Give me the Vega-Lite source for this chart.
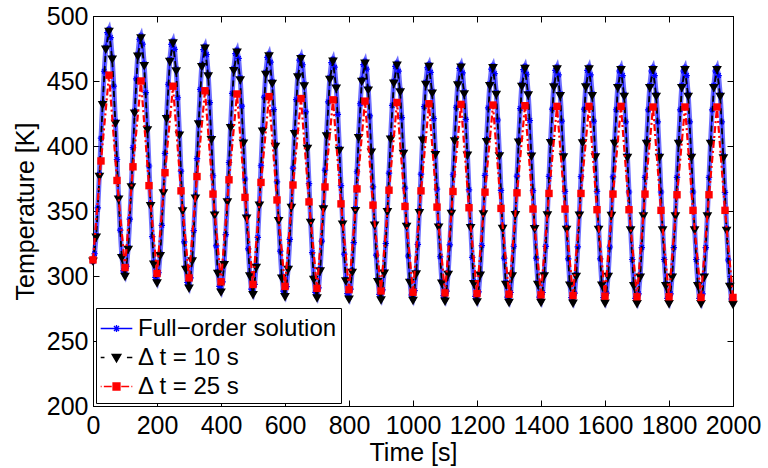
{
"$schema": "https://vega.github.io/schema/vega-lite/v6.json",
"autosize": "none",
"width": 640,
"height": 390,
"padding": {"left": 93, "top": 16, "right": 35, "bottom": 62},
"background": "white",
"datasets": {
"full": [
{"t":0,"v":311.0},{"t":5,"v":317.1},{"t":10,"v":331.4},{"t":15,"v":352.4},{"t":20,"v":378.1},{"t":25,"v":406.0},{"t":30,"v":433.4},{"t":35,"v":457.5},{"t":40,"v":476.1},{"t":45,"v":487.2},{"t":50,"v":489.8},{"t":55,"v":483.4},{"t":60,"v":468.3},{"t":65,"v":446.1},{"t":70,"v":419.0},{"t":75,"v":389.6},{"t":80,"v":360.7},{"t":85,"v":335.3},{"t":90,"v":315.7},{"t":95,"v":304.0},
{"t":100,"v":301.2},{"t":105,"v":307.5},{"t":110,"v":322.1},{"t":115,"v":343.7},{"t":120,"v":370.1},{"t":125,"v":398.8},{"t":130,"v":426.9},{"t":135,"v":451.6},{"t":140,"v":470.7},{"t":145,"v":482.1},{"t":150,"v":484.8},{"t":155,"v":478.4},{"t":160,"v":463.3},{"t":165,"v":441.1},{"t":170,"v":414.0},{"t":175,"v":384.6},{"t":180,"v":355.7},{"t":185,"v":330.3},{"t":190,"v":310.7},{"t":195,"v":299.0},
{"t":200,"v":296.2},{"t":205,"v":302.5},{"t":210,"v":317.2},{"t":215,"v":338.9},{"t":220,"v":365.5},{"t":225,"v":394.3},{"t":230,"v":422.6},{"t":235,"v":447.5},{"t":240,"v":466.6},{"t":245,"v":478.1},{"t":250,"v":480.8},{"t":255,"v":474.4},{"t":260,"v":459.3},{"t":265,"v":437.1},{"t":270,"v":410.0},{"t":275,"v":380.6},{"t":280,"v":351.7},{"t":285,"v":326.3},{"t":290,"v":306.7},{"t":295,"v":295.0},
{"t":300,"v":292.2},{"t":305,"v":298.5},{"t":310,"v":313.2},{"t":315,"v":334.9},{"t":320,"v":361.5},{"t":325,"v":390.3},{"t":330,"v":418.6},{"t":335,"v":443.5},{"t":340,"v":462.6},{"t":345,"v":474.1},{"t":350,"v":476.8},{"t":355,"v":470.4},{"t":360,"v":455.4},{"t":365,"v":433.4},{"t":370,"v":406.4},{"t":375,"v":377.1},{"t":380,"v":348.4},{"t":385,"v":323.1},{"t":390,"v":303.6},{"t":395,"v":292.0},
{"t":400,"v":289.2},{"t":405,"v":295.5},{"t":410,"v":310.2},{"t":415,"v":331.9},{"t":420,"v":358.5},{"t":425,"v":387.3},{"t":430,"v":415.6},{"t":435,"v":440.5},{"t":440,"v":459.6},{"t":445,"v":471.1},{"t":450,"v":473.8},{"t":455,"v":467.4},{"t":460,"v":452.5},{"t":465,"v":430.6},{"t":470,"v":403.8},{"t":475,"v":374.6},{"t":480,"v":346.1},{"t":485,"v":320.9},{"t":490,"v":301.6},{"t":495,"v":289.9},
{"t":500,"v":287.2},{"t":505,"v":293.5},{"t":510,"v":308.1},{"t":515,"v":329.7},{"t":520,"v":356.1},{"t":525,"v":384.8},{"t":530,"v":412.9},{"t":535,"v":437.6},{"t":540,"v":456.7},{"t":545,"v":468.1},{"t":550,"v":470.8},{"t":555,"v":464.5},{"t":560,"v":449.7},{"t":565,"v":428.0},{"t":570,"v":401.3},{"t":575,"v":372.4},{"t":580,"v":344.1},{"t":585,"v":319.1},{"t":590,"v":299.9},{"t":595,"v":288.4},
{"t":600,"v":285.7},{"t":605,"v":291.9},{"t":610,"v":306.6},{"t":615,"v":328.1},{"t":620,"v":354.4},{"t":625,"v":383.0},{"t":630,"v":411.0},{"t":635,"v":435.7},{"t":640,"v":454.7},{"t":645,"v":466.1},{"t":650,"v":468.8},{"t":655,"v":462.5},{"t":660,"v":447.8},{"t":665,"v":426.2},{"t":670,"v":399.7},{"t":675,"v":371.0},{"t":680,"v":342.8},{"t":685,"v":318.0},{"t":690,"v":298.9},{"t":695,"v":287.4},
{"t":700,"v":284.7},{"t":705,"v":290.9},{"t":710,"v":305.4},{"t":715,"v":326.9},{"t":720,"v":353.1},{"t":725,"v":381.5},{"t":730,"v":409.3},{"t":735,"v":433.9},{"t":740,"v":452.8},{"t":745,"v":464.1},{"t":750,"v":466.8},{"t":755,"v":460.6},{"t":760,"v":446.0},{"t":765,"v":424.4},{"t":770,"v":398.1},{"t":775,"v":369.5},{"t":780,"v":341.5},{"t":785,"v":316.8},{"t":790,"v":297.8},{"t":795,"v":286.4},
{"t":800,"v":283.7},{"t":805,"v":289.9},{"t":810,"v":304.4},{"t":815,"v":325.7},{"t":820,"v":351.9},{"t":825,"v":380.2},{"t":830,"v":408.0},{"t":835,"v":432.5},{"t":840,"v":451.3},{"t":845,"v":462.6},{"t":850,"v":465.3},{"t":855,"v":459.1},{"t":860,"v":444.6},{"t":865,"v":423.1},{"t":870,"v":396.9},{"t":875,"v":368.5},{"t":880,"v":340.7},{"t":885,"v":316.1},{"t":890,"v":297.2},{"t":895,"v":285.9},
{"t":900,"v":283.2},{"t":905,"v":289.4},{"t":910,"v":303.8},{"t":915,"v":325.0},{"t":920,"v":351.0},{"t":925,"v":379.2},{"t":930,"v":406.8},{"t":935,"v":431.2},{"t":940,"v":449.9},{"t":945,"v":461.2},{"t":950,"v":463.8},{"t":955,"v":457.6},{"t":960,"v":443.2},{"t":965,"v":421.9},{"t":970,"v":395.8},{"t":975,"v":367.6},{"t":980,"v":339.8},{"t":985,"v":315.4},{"t":990,"v":296.6},{"t":995,"v":285.4},
{"t":1000,"v":282.7},{"t":1005,"v":288.8},{"t":1010,"v":303.2},{"t":1015,"v":324.4},{"t":1020,"v":350.3},{"t":1025,"v":378.4},{"t":1030,"v":406.0},{"t":1035,"v":430.3},{"t":1040,"v":449.0},{"t":1045,"v":460.2},{"t":1050,"v":462.8},{"t":1055,"v":456.7},{"t":1060,"v":442.2},{"t":1065,"v":421.0},{"t":1070,"v":395.0},{"t":1075,"v":366.8},{"t":1080,"v":339.2},{"t":1085,"v":314.8},{"t":1090,"v":296.1},{"t":1095,"v":284.8},
{"t":1100,"v":282.2},{"t":1105,"v":288.3},{"t":1110,"v":302.7},{"t":1115,"v":323.9},{"t":1120,"v":349.8},{"t":1125,"v":377.9},{"t":1130,"v":405.5},{"t":1135,"v":429.8},{"t":1140,"v":448.5},{"t":1145,"v":459.7},{"t":1150,"v":462.3},{"t":1155,"v":456.2},{"t":1160,"v":441.7},{"t":1165,"v":420.5},{"t":1170,"v":394.5},{"t":1175,"v":366.3},{"t":1180,"v":338.7},{"t":1185,"v":314.3},{"t":1190,"v":295.6},{"t":1195,"v":284.3},
{"t":1200,"v":281.7},{"t":1205,"v":287.8},{"t":1210,"v":302.2},{"t":1215,"v":323.4},{"t":1220,"v":349.3},{"t":1225,"v":377.4},{"t":1230,"v":405.0},{"t":1235,"v":429.3},{"t":1240,"v":448.0},{"t":1245,"v":459.2},{"t":1250,"v":461.8},{"t":1255,"v":455.7},{"t":1260,"v":441.2},{"t":1265,"v":420.0},{"t":1270,"v":394.0},{"t":1275,"v":365.8},{"t":1280,"v":338.2},{"t":1285,"v":313.8},{"t":1290,"v":295.1},{"t":1295,"v":283.8},
{"t":1300,"v":281.2},{"t":1305,"v":287.3},{"t":1310,"v":301.7},{"t":1315,"v":322.9},{"t":1320,"v":348.8},{"t":1325,"v":376.9},{"t":1330,"v":404.5},{"t":1335,"v":428.8},{"t":1340,"v":447.5},{"t":1345,"v":458.7},{"t":1350,"v":461.3},{"t":1355,"v":455.2},{"t":1360,"v":440.8},{"t":1365,"v":419.6},{"t":1370,"v":393.7},{"t":1375,"v":365.6},{"t":1380,"v":338.0},{"t":1385,"v":313.7},{"t":1390,"v":295.1},{"t":1395,"v":283.8},
{"t":1400,"v":281.2},{"t":1405,"v":287.3},{"t":1410,"v":301.7},{"t":1415,"v":322.8},{"t":1420,"v":348.6},{"t":1425,"v":376.7},{"t":1430,"v":404.1},{"t":1435,"v":428.4},{"t":1440,"v":447.0},{"t":1445,"v":458.2},{"t":1450,"v":460.8},{"t":1455,"v":454.7},{"t":1460,"v":440.3},{"t":1465,"v":419.1},{"t":1470,"v":393.2},{"t":1475,"v":365.1},{"t":1480,"v":337.5},{"t":1485,"v":313.2},{"t":1490,"v":294.6},{"t":1495,"v":283.3},
{"t":1500,"v":280.7},{"t":1505,"v":286.8},{"t":1510,"v":301.2},{"t":1515,"v":322.4},{"t":1520,"v":348.3},{"t":1525,"v":376.4},{"t":1530,"v":404.0},{"t":1535,"v":428.3},{"t":1540,"v":447.0},{"t":1545,"v":458.2},{"t":1550,"v":460.8},{"t":1555,"v":454.7},{"t":1560,"v":440.3},{"t":1565,"v":419.1},{"t":1570,"v":393.2},{"t":1575,"v":365.1},{"t":1580,"v":337.5},{"t":1585,"v":313.2},{"t":1590,"v":294.6},{"t":1595,"v":283.3},
{"t":1600,"v":280.7},{"t":1605,"v":286.8},{"t":1610,"v":301.2},{"t":1615,"v":322.3},{"t":1620,"v":348.1},{"t":1625,"v":376.2},{"t":1630,"v":403.6},{"t":1635,"v":427.9},{"t":1640,"v":446.5},{"t":1645,"v":457.7},{"t":1650,"v":460.3},{"t":1655,"v":454.2},{"t":1660,"v":439.8},{"t":1665,"v":418.6},{"t":1670,"v":392.7},{"t":1675,"v":364.6},{"t":1680,"v":337.0},{"t":1685,"v":312.7},{"t":1690,"v":294.1},{"t":1695,"v":282.8},
{"t":1700,"v":280.2},{"t":1705,"v":286.3},{"t":1710,"v":300.7},{"t":1715,"v":321.9},{"t":1720,"v":347.8},{"t":1725,"v":375.9},{"t":1730,"v":403.5},{"t":1735,"v":427.8},{"t":1740,"v":446.5},{"t":1745,"v":457.7},{"t":1750,"v":460.3},{"t":1755,"v":454.2},{"t":1760,"v":439.8},{"t":1765,"v":418.6},{"t":1770,"v":392.7},{"t":1775,"v":364.6},{"t":1780,"v":337.0},{"t":1785,"v":312.7},{"t":1790,"v":294.1},{"t":1795,"v":282.8},
{"t":1800,"v":280.2},{"t":1805,"v":286.3},{"t":1810,"v":300.7},{"t":1815,"v":321.9},{"t":1820,"v":347.8},{"t":1825,"v":375.9},{"t":1830,"v":403.5},{"t":1835,"v":427.8},{"t":1840,"v":446.5},{"t":1845,"v":457.7},{"t":1850,"v":460.3},{"t":1855,"v":454.2},{"t":1860,"v":439.8},{"t":1865,"v":418.6},{"t":1870,"v":392.7},{"t":1875,"v":364.6},{"t":1880,"v":337.0},{"t":1885,"v":312.7},{"t":1890,"v":294.1},{"t":1895,"v":282.8},
{"t":1900,"v":280.2},{"t":1905,"v":286.3},{"t":1910,"v":300.7},{"t":1915,"v":321.9},{"t":1920,"v":347.8},{"t":1925,"v":375.9},{"t":1930,"v":403.5},{"t":1935,"v":427.8},{"t":1940,"v":446.5},{"t":1945,"v":457.7},{"t":1950,"v":460.3},{"t":1955,"v":454.2},{"t":1960,"v":439.7},{"t":1965,"v":418.5},{"t":1970,"v":392.5},{"t":1975,"v":364.3},{"t":1980,"v":336.7},{"t":1985,"v":312.3},{"t":1990,"v":293.6},{"t":1995,"v":282.3},
{"t":2000,"v":279.7}
],
"dt10": [
{"t":0,"v":311.0},{"t":10,"v":329.4},{"t":20,"v":376.1},{"t":30,"v":431.4},{"t":40,"v":474.1},{"t":50,"v":487.8},{"t":60,"v":466.3},{"t":70,"v":417.0},{"t":80,"v":358.7},{"t":90,"v":313.7},
{"t":100,"v":299.2},{"t":110,"v":320.1},{"t":120,"v":368.1},{"t":130,"v":424.9},{"t":140,"v":468.7},{"t":150,"v":482.8},{"t":160,"v":461.3},{"t":170,"v":412.0},{"t":180,"v":353.7},{"t":190,"v":308.7},
{"t":200,"v":294.2},{"t":210,"v":315.2},{"t":220,"v":363.5},{"t":230,"v":420.6},{"t":240,"v":464.6},{"t":250,"v":478.8},{"t":260,"v":457.3},{"t":270,"v":408.0},{"t":280,"v":349.7},{"t":290,"v":304.7},
{"t":300,"v":290.2},{"t":310,"v":311.2},{"t":320,"v":359.5},{"t":330,"v":416.6},{"t":340,"v":460.6},{"t":350,"v":474.8},{"t":360,"v":453.4},{"t":370,"v":404.4},{"t":380,"v":346.4},{"t":390,"v":301.6},
{"t":400,"v":287.2},{"t":410,"v":308.2},{"t":420,"v":356.5},{"t":430,"v":413.6},{"t":440,"v":457.6},{"t":450,"v":471.8},{"t":460,"v":450.5},{"t":470,"v":401.8},{"t":480,"v":344.1},{"t":490,"v":299.6},
{"t":500,"v":285.2},{"t":510,"v":306.1},{"t":520,"v":354.1},{"t":530,"v":410.9},{"t":540,"v":454.7},{"t":550,"v":468.8},{"t":560,"v":447.7},{"t":570,"v":399.3},{"t":580,"v":342.1},{"t":590,"v":297.9},
{"t":600,"v":283.7},{"t":610,"v":304.6},{"t":620,"v":352.4},{"t":630,"v":409.0},{"t":640,"v":452.7},{"t":650,"v":466.8},{"t":660,"v":445.8},{"t":670,"v":397.7},{"t":680,"v":340.8},{"t":690,"v":296.9},
{"t":700,"v":282.7},{"t":710,"v":303.4},{"t":720,"v":351.1},{"t":730,"v":407.3},{"t":740,"v":450.8},{"t":750,"v":464.8},{"t":760,"v":444.0},{"t":770,"v":396.1},{"t":780,"v":339.5},{"t":790,"v":295.8},
{"t":800,"v":281.7},{"t":810,"v":302.4},{"t":820,"v":349.9},{"t":830,"v":406.0},{"t":840,"v":449.3},{"t":850,"v":463.3},{"t":860,"v":442.6},{"t":870,"v":394.9},{"t":880,"v":338.7},{"t":890,"v":295.2},
{"t":900,"v":281.2},{"t":910,"v":301.8},{"t":920,"v":349.0},{"t":930,"v":404.8},{"t":940,"v":447.9},{"t":950,"v":461.8},{"t":960,"v":441.2},{"t":970,"v":393.8},{"t":980,"v":337.8},{"t":990,"v":294.6},
{"t":1000,"v":280.7},{"t":1010,"v":301.2},{"t":1020,"v":348.3},{"t":1030,"v":404.0},{"t":1040,"v":447.0},{"t":1050,"v":460.8},{"t":1060,"v":440.2},{"t":1070,"v":393.0},{"t":1080,"v":337.2},{"t":1090,"v":294.1},
{"t":1100,"v":280.2},{"t":1110,"v":300.7},{"t":1120,"v":347.8},{"t":1130,"v":403.5},{"t":1140,"v":446.5},{"t":1150,"v":460.3},{"t":1160,"v":439.7},{"t":1170,"v":392.5},{"t":1180,"v":336.7},{"t":1190,"v":293.6},
{"t":1200,"v":279.7},{"t":1210,"v":300.2},{"t":1220,"v":347.3},{"t":1230,"v":403.0},{"t":1240,"v":446.0},{"t":1250,"v":459.8},{"t":1260,"v":439.2},{"t":1270,"v":392.0},{"t":1280,"v":336.2},{"t":1290,"v":293.1},
{"t":1300,"v":279.2},{"t":1310,"v":299.7},{"t":1320,"v":346.8},{"t":1330,"v":402.5},{"t":1340,"v":445.5},{"t":1350,"v":459.3},{"t":1360,"v":438.8},{"t":1370,"v":391.7},{"t":1380,"v":336.0},{"t":1390,"v":293.1},
{"t":1400,"v":279.2},{"t":1410,"v":299.7},{"t":1420,"v":346.6},{"t":1430,"v":402.1},{"t":1440,"v":445.0},{"t":1450,"v":458.8},{"t":1460,"v":438.3},{"t":1470,"v":391.2},{"t":1480,"v":335.5},{"t":1490,"v":292.6},
{"t":1500,"v":278.7},{"t":1510,"v":299.2},{"t":1520,"v":346.3},{"t":1530,"v":402.0},{"t":1540,"v":445.0},{"t":1550,"v":458.8},{"t":1560,"v":438.3},{"t":1570,"v":391.2},{"t":1580,"v":335.5},{"t":1590,"v":292.6},
{"t":1600,"v":278.7},{"t":1610,"v":299.2},{"t":1620,"v":346.1},{"t":1630,"v":401.6},{"t":1640,"v":444.5},{"t":1650,"v":458.3},{"t":1660,"v":437.8},{"t":1670,"v":390.7},{"t":1680,"v":335.0},{"t":1690,"v":292.1},
{"t":1700,"v":278.2},{"t":1710,"v":298.7},{"t":1720,"v":345.8},{"t":1730,"v":401.5},{"t":1740,"v":444.5},{"t":1750,"v":458.3},{"t":1760,"v":437.8},{"t":1770,"v":390.7},{"t":1780,"v":335.0},{"t":1790,"v":292.1},
{"t":1800,"v":278.2},{"t":1810,"v":298.7},{"t":1820,"v":345.8},{"t":1830,"v":401.5},{"t":1840,"v":444.5},{"t":1850,"v":458.3},{"t":1860,"v":437.8},{"t":1870,"v":390.7},{"t":1880,"v":335.0},{"t":1890,"v":292.1},
{"t":1900,"v":278.2},{"t":1910,"v":298.7},{"t":1920,"v":345.8},{"t":1930,"v":401.5},{"t":1940,"v":444.5},{"t":1950,"v":458.3},{"t":1960,"v":437.7},{"t":1970,"v":390.5},{"t":1980,"v":334.7},{"t":1990,"v":291.6},
{"t":2000,"v":277.7}
],
"dt25": [
{"t":0,"v":312.4},{"t":25,"v":388.5},{"t":50,"v":454.5},{"t":75,"v":373.5},
{"t":100,"v":306.5},{"t":125,"v":384.0},{"t":150,"v":450.0},{"t":175,"v":369.5},
{"t":200,"v":302.0},{"t":225,"v":379.5},{"t":250,"v":446.0},{"t":275,"v":365.5},
{"t":300,"v":298.5},{"t":325,"v":376.5},{"t":350,"v":442.5},{"t":375,"v":363.0},
{"t":400,"v":295.5},{"t":425,"v":374.0},{"t":450,"v":440.0},{"t":475,"v":360.5},
{"t":500,"v":293.5},{"t":525,"v":372.0},{"t":550,"v":438.0},{"t":575,"v":358.5},
{"t":600,"v":292.0},{"t":625,"v":370.0},{"t":650,"v":436.5},{"t":675,"v":357.0},
{"t":700,"v":290.5},{"t":725,"v":368.5},{"t":750,"v":435.5},{"t":775,"v":355.5},
{"t":800,"v":289.5},{"t":825,"v":367.0},{"t":850,"v":434.5},{"t":875,"v":354.5},
{"t":900,"v":288.5},{"t":925,"v":366.0},{"t":950,"v":433.5},{"t":975,"v":353.5},
{"t":1000,"v":287.5},{"t":1025,"v":365.5},{"t":1050,"v":432.5},{"t":1075,"v":353.0},
{"t":1100,"v":287.0},{"t":1125,"v":365.0},{"t":1150,"v":432.0},{"t":1175,"v":352.5},
{"t":1200,"v":286.5},{"t":1225,"v":364.5},{"t":1250,"v":431.5},{"t":1275,"v":352.0},
{"t":1300,"v":286.0},{"t":1325,"v":364.0},{"t":1350,"v":431.0},{"t":1375,"v":351.5},
{"t":1400,"v":285.5},{"t":1425,"v":363.5},{"t":1450,"v":430.5},{"t":1475,"v":351.5},
{"t":1500,"v":285.0},{"t":1525,"v":363.5},{"t":1550,"v":430.5},{"t":1575,"v":351.0},
{"t":1600,"v":284.5},{"t":1625,"v":363.0},{"t":1650,"v":430.5},{"t":1675,"v":351.0},
{"t":1700,"v":284.0},{"t":1725,"v":363.0},{"t":1750,"v":430.0},{"t":1775,"v":350.5},
{"t":1800,"v":284.0},{"t":1825,"v":362.5},{"t":1850,"v":430.0},{"t":1875,"v":350.5},
{"t":1900,"v":283.5},{"t":1925,"v":362.5},{"t":1950,"v":430.0},{"t":1975,"v":350.5},
{"t":2000,"v":283.5}
]
},
"resolve": {"axis": {"x": "independent", "y": "independent"}},
"layer": [
{
"data": {"name": "full"},
"mark": {"type": "line", "strokeWidth": 1.2},
"encoding": {
"x": {"field": "t", "type": "quantitative", "scale": {"domain": [0, 2000], "nice": false, "zero": false},
"axis": {"title": "Time [s]", "values": [0,200,400,600,800,1000,1200,1400,1600,1800,2000], "format": "d", "labelPadding": 13, "titlePadding": 2, "labelFlush": false, "labelOverlap": false}},
"y": {"field": "v", "type": "quantitative", "scale": {"domain": [200, 500], "nice": false, "zero": false},
"axis": {"title": "Temperature [K]", "values": [200,250,300,350,400,450,500], "format": "d", "labelPadding": 11, "titlePadding": 8, "labelFlush": false, "labelOverlap": false}},
"color": {"datum": "Full−order solution", "type": "nominal",
"scale": {"domain": ["Full−order solution", "Δ t = 10 s", "Δ t = 25 s"], "range": ["#0000ff", "#000000", "#ff0000"]},
"legend": {"title": null, "orient": "bottom-left", "offset": 3, "padding": 4, "rowPadding": 0, "symbolSize": 1000, "labelOffset": 5, "labelLimit": 400,
"labelFont": "Liberation Sans", "labelFontSize": 24, "labelColor": "#000000", "strokeColor": "#000000", "fillColor": "#ffffff",
"encode": {"symbols": {"update": {
"shape": {"signal": "datum.value === 'Full−order solution' ? 'M-1,0H1M-0.22,0H0.22M0,-0.22V0.22M-0.16,-0.16L0.16,0.16M-0.16,0.16L0.16,-0.16' : datum.value === 'Δ t = 10 s' ? 'M-1,0H-0.76M0.66,0H1M-0.28,-0.2H0.28L0,0.28Z' : 'M-1,0H-0.94M-0.8,0H-0.3M0.3,0H0.8M0.94,0H1M-0.22,-0.22H0.22V0.22H-0.22Z'"},
"fill": {"signal": "datum.value === 'Full−order solution' ? 'transparent' : datum.value === 'Δ t = 10 s' ? '#000000' : '#ff0000'"},
"stroke": {"signal": "datum.value === 'Full−order solution' ? '#0000ff' : datum.value === 'Δ t = 10 s' ? '#000000' : '#ff0000'"},
"strokeWidth": {"value": 1.3},
"opacity": {"value": 1},
"fillOpacity": {"value": 1},
"strokeOpacity": {"value": 1}
}}}}}
}
},
{
"data": {"name": "full"},
"mark": {"type": "line", "strokeWidth": 5, "opacity": 0.6, "color": "#1010ff"},
"encoding": {
"x": {"field": "t", "type": "quantitative", "axis": {"orient": "top", "labels": false, "title": null, "values": [0,200,400,600,800,1000,1200,1400,1600,1800,2000]}},
"y": {"field": "v", "type": "quantitative", "axis": {"orient": "right", "labels": false, "title": null, "values": [200,250,300,350,400,450,500]}}
}
},
{
"data": {"name": "full"},
"mark": {"type": "point", "shape": "M-1,0L1,0M0,-1L0,1M-0.7,-0.7L0.7,0.7M-0.7,0.7L0.7,-0.7", "filled": false, "size": 42, "strokeWidth": 1.2, "opacity": 1},
"encoding": {
"x": {"field": "t", "type": "quantitative", "axis": null},
"y": {"field": "v", "type": "quantitative", "axis": null},
"color": {"datum": "Full−order solution", "type": "nominal"}
}
},
{
"data": {"name": "dt10"},
"mark": {"type": "line", "strokeWidth": 1.8, "strokeDash": [6, 4]},
"encoding": {
"x": {"field": "t", "type": "quantitative", "axis": null},
"y": {"field": "v", "type": "quantitative", "axis": null},
"color": {"datum": "Δ t = 10 s", "type": "nominal"}
}
},
{
"data": {"name": "dt10"},
"mark": {"type": "point", "shape": "triangle-down", "filled": true, "size": 95, "opacity": 1},
"encoding": {
"x": {"field": "t", "type": "quantitative", "axis": null},
"y": {"field": "v", "type": "quantitative", "axis": null},
"color": {"datum": "Δ t = 10 s", "type": "nominal"}
}
},
{
"data": {"name": "dt25"},
"mark": {"type": "line", "strokeWidth": 2.2, "strokeDash": [7, 3, 2, 3]},
"encoding": {
"x": {"field": "t", "type": "quantitative", "axis": null},
"y": {"field": "v", "type": "quantitative", "axis": null},
"color": {"datum": "Δ t = 25 s", "type": "nominal"}
}
},
{
"data": {"name": "dt25"},
"mark": {"type": "point", "shape": "square", "filled": true, "size": 55, "opacity": 1},
"encoding": {
"x": {"field": "t", "type": "quantitative", "axis": null},
"y": {"field": "v", "type": "quantitative", "axis": null},
"color": {"datum": "Δ t = 25 s", "type": "nominal"}
}
}
],
"config": {
"view": {"stroke": "#000000", "strokeWidth": 1},
"axis": {"domainColor": "#000000", "domainWidth": 1, "tickColor": "#000000", "tickWidth": 1, "tickSize": -6,
"labelColor": "#000000", "titleColor": "#000000", "labelFont": "Liberation Sans", "titleFont": "Liberation Sans",
"labelFontSize": 25, "titleFontSize": 25, "titleFontWeight": "normal", "grid": false}
}
}
